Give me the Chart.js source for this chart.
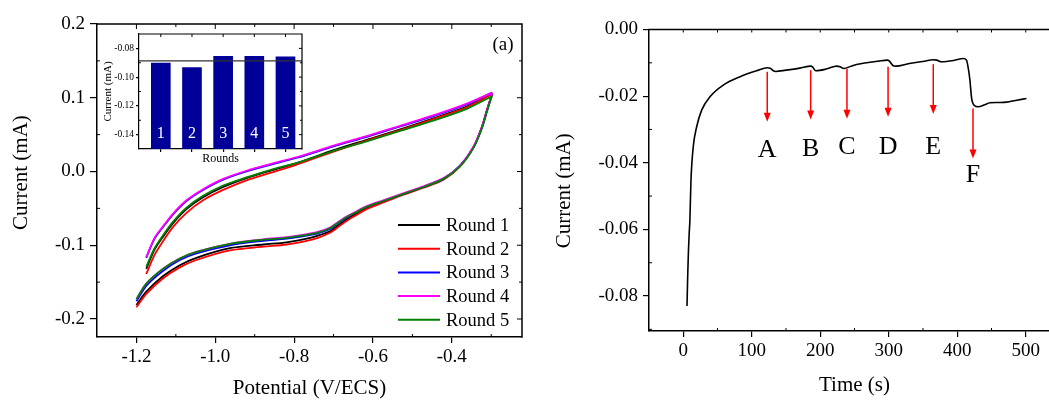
<!DOCTYPE html>
<html>
<head>
<meta charset="utf-8">
<title>CV rounds and chronoamperometry</title>
<script src="https://cdn.jsdelivr.net/npm/chart.js@4.4.1/dist/chart.umd.min.js"></script>
<style>
  html, body { margin: 0; padding: 0; background: #fff; }
  body { position: relative; width: 1049px; height: 401px; overflow: hidden; }
  canvas { position: absolute; display: block; }
</style>
</head>
<body>
<canvas id="cv" width="540" height="401" style="left:0;top:0;width:540px;height:401px"></canvas>
<canvas id="it" width="540" height="401" style="left:540px;top:0;width:540px;height:401px"></canvas>
<canvas id="inset" width="220" height="150" style="left:90px;top:20px;width:220px;height:150px"></canvas>
<script>
// ---------- Cyclic voltammograms, five consecutive rounds ----------
const roundNames  = ['Round 1', 'Round 2', 'Round 3', 'Round 4', 'Round 5'];
const roundColors = ['#000000', '#ff0000', '#0000ff', '#ff00ff', '#008000'];

// anodic (upper) branch: potential in V vs ECS, current in mA
const anodicPotential = [-1.175, -1.154, -1.132, -1.107, -1.073, -1.031, -0.980, -0.921, -0.861, -0.790, -0.700, -0.616, -0.531, -0.447, -0.362, -0.298];
const anodicR1 = [-0.132, -0.106, -0.088, -0.070, -0.051, -0.035, -0.021, -0.009, 0.001, 0.012, 0.029, 0.043, 0.057, 0.072, 0.088, 0.105];
const anodicR2 = [-0.139, -0.113, -0.094, -0.075, -0.056, -0.039, -0.025, -0.012, -0.002, 0.010, 0.027, 0.042, 0.056, 0.071, 0.087, 0.105];
const anodicR3 = [-0.117, -0.091, -0.075, -0.058, -0.040, -0.025, -0.011, 0.000, 0.009, 0.019, 0.034, 0.047, 0.061, 0.075, 0.091, 0.107];
const anodicR4 = [-0.116, -0.090, -0.074, -0.057, -0.039, -0.024, -0.010, 0.001, 0.010, 0.020, 0.035, 0.048, 0.062, 0.076, 0.092, 0.107];
const anodicR5 = [-0.129, -0.104, -0.086, -0.068, -0.049, -0.033, -0.019, -0.008, 0.002, 0.012, 0.028, 0.041, 0.055, 0.069, 0.085, 0.102];

// cathodic (lower) branch
const cathodicPotential = [-1.200, -1.175, -1.133, -1.090, -1.048, -0.963, -0.878, -0.819, -0.768, -0.740, -0.709, -0.690, -0.667, -0.645, -0.616, -0.574, -0.531, -0.472, -0.421, -0.379, -0.345, -0.324, -0.311, -0.301, -0.298];
const cathodicR1 = [-0.181, -0.163, -0.142, -0.127, -0.117, -0.104, -0.099, -0.096, -0.091, -0.087, -0.081, -0.074, -0.065, -0.058, -0.050, -0.041, -0.032, -0.021, -0.010, 0.008, 0.033, 0.060, 0.083, 0.100, 0.105];
const cathodicR2 = [-0.184, -0.166, -0.145, -0.130, -0.120, -0.107, -0.102, -0.099, -0.094, -0.090, -0.083, -0.076, -0.067, -0.060, -0.051, -0.042, -0.033, -0.022, -0.011, 0.007, 0.033, 0.060, 0.083, 0.100, 0.105];
const cathodicR3 = [-0.176, -0.155, -0.135, -0.120, -0.111, -0.100, -0.094, -0.091, -0.087, -0.084, -0.078, -0.071, -0.063, -0.056, -0.048, -0.040, -0.032, -0.021, -0.010, 0.008, 0.033, 0.059, 0.082, 0.100, 0.107];
const cathodicR4 = [-0.173, -0.152, -0.132, -0.118, -0.109, -0.098, -0.092, -0.089, -0.085, -0.082, -0.076, -0.069, -0.061, -0.055, -0.047, -0.039, -0.031, -0.020, -0.009, 0.008, 0.034, 0.060, 0.083, 0.100, 0.107];
const cathodicR5 = [-0.173, -0.152, -0.132, -0.118, -0.109, -0.098, -0.0925, -0.090, -0.086, -0.083, -0.077, -0.070, -0.062, -0.056, -0.048, -0.040, -0.032, -0.021, -0.010, 0.007, 0.032, 0.058, 0.081, 0.098, 0.102];

const cvPotentialTicks = [-1.2, -1.0, -0.8, -0.6, -0.4];
const cvPotentialMinor = [-1.1, -0.9, -0.7, -0.5, -0.3];
const cvCurrentTicks   = [-0.2, -0.1, 0.0, 0.1, 0.2];
const cvCurrentMinor   = [-0.15, -0.05, 0.05, 0.15];

// ---------- Inset: current of each round ----------
const rounds       = [1, 2, 3, 4, 5];
const roundCurrent = [-0.0903, -0.0933, -0.0855, -0.0855, -0.0859];
const meanLevel    = -0.0887;
const insetTicks   = [-0.08, -0.10, -0.12, -0.14];
const insetMinor   = [-0.07, -0.09, -0.11, -0.13];

// ---------- Current–time response with additions A–F ----------
const timeS = [5.5, 6.5, 7.5, 8.6, 9.7, 11.3, 14.6, 19.6, 26.9, 39, 58.4, 82.8, 107, 123, 127, 131, 135, 150, 170, 186.5, 189, 193.5, 210, 224, 229, 234.5, 245, 253, 270, 285, 298, 301, 306, 310, 330, 350, 365, 370, 377, 395, 409, 413.5, 416, 418.5, 421, 425, 430.5, 440, 447.5, 460, 472, 485, 501];
const currentMA = [-0.0830, -0.0740, -0.0670, -0.0615, -0.0572, -0.0452, -0.0352, -0.0292, -0.0242, -0.0202, -0.0167, -0.0142, -0.0124, -0.0115, -0.0116, -0.0123, -0.0126, -0.0122, -0.0116, -0.0110, -0.0113, -0.0124, -0.0118, -0.0110, -0.0112, -0.0117, -0.0110, -0.0105, -0.0099, -0.0095, -0.0092, -0.0095, -0.0108, -0.0110, -0.0102, -0.0096, -0.0091, -0.0092, -0.0097, -0.0093, -0.0087, -0.0092, -0.0115, -0.0152, -0.0207, -0.0228, -0.0232, -0.0226, -0.0220, -0.0219, -0.0218, -0.0213, -0.0207];

const markerLabels = ['A', 'B', 'C', 'D', 'E', 'F'];
const markerTime   = [122.6, 186, 239, 299, 365, 423];
const markerFrom   = [-0.0127, -0.0122, -0.0118, -0.0112, -0.0104, -0.0237];
const markerTo     = [-0.0277, -0.0270, -0.0268, -0.0262, -0.0254, -0.0387];
const markerTextAt = [-0.0362, -0.0360, -0.0352, -0.0354, -0.0352, -0.0437];

const itTimeTicks    = [0, 100, 200, 300, 400, 500];
const itTimeMinor    = [-50, 50, 150, 250, 350, 450, 550];
const itCurrentTicks = [0, -0.02, -0.04, -0.06, -0.08];
const itCurrentMinor = [-0.01, -0.03, -0.05, -0.07, -0.09];

// ---------- shared styling ----------
const SERIF = '"Liberation Serif", "Times New Roman", Times, serif';
Chart.defaults.font.family = SERIF;
Chart.defaults.color = '#000';
const NB = '\u00a0';

// closes the plot box (top, optionally right) and adds the small inward ticks
function framePlugin(cfg) {
  return {
    id: 'frame',
    afterDraw(chart) {
      const { ctx, chartArea: a } = chart;
      const xs = chart.scales.x, ys = chart.scales.y;
      ctx.save();
      ctx.strokeStyle = '#000';
      ctx.lineWidth = cfg.width;
      ctx.beginPath();
      ctx.moveTo(a.left - cfg.width / 2, a.top);
      ctx.lineTo(a.right + cfg.width / 2, a.top);
      if (cfg.right) { ctx.moveTo(a.right, a.top); ctx.lineTo(a.right, a.bottom + cfg.width / 2); }
      ctx.stroke();
      ctx.lineWidth = 1;
      ctx.beginPath();
      const tx = (v, len, y0, dir) => {
        const p = xs.getPixelForValue(v);
        if (p <= a.left + 1 || p >= a.right - 1) return;
        ctx.moveTo(p, y0); ctx.lineTo(p, y0 + dir * len);
      };
      const ty = (v, len, x0, dir) => {
        const p = ys.getPixelForValue(v);
        if (p <= a.top + 1 || p >= a.bottom - 1) return;
        ctx.moveTo(x0, p); ctx.lineTo(x0 + dir * len, p);
      };
      (cfg.minorX || []).forEach(v => { tx(v, cfg.minorLen, a.bottom, -1); if (cfg.top) tx(v, cfg.minorLen, a.top, 1); });
      if (cfg.top) (cfg.majorX || []).forEach(v => tx(v, cfg.majorLen, a.top, 1));
      (cfg.minorY || []).forEach(v => { ty(v, cfg.minorLen, a.left, 1); if (cfg.right) ty(v, cfg.minorLen, a.right, -1); });
      if (cfg.right) (cfg.majorY || []).forEach(v => ty(v, cfg.majorLen, a.right, -1));
      ctx.stroke();
      ctx.restore();
    }
  };
}

function fixedTicks(values) {
  return scale => { scale.ticks = values.map(v => ({ value: v })); };
}

function axis(opts) {
  return {
    type: 'linear',
    min: opts.min, max: opts.max,
    offset: false,
    afterBuildTicks: fixedTicks(opts.ticks),
    afterFit: opts.fit,
    ticks: { callback: opts.format, font: { size: opts.tickSize }, color: '#000', padding: opts.tickPad, maxRotation: 0, autoSkip: false, display: opts.labels !== false },
    grid: { drawOnChartArea: false, drawTicks: true, tickLength: opts.tickLen, color: '#000', lineWidth: 1.2, offset: false },
    border: { display: true, color: '#000', width: opts.border || 1.5 },
    title: { display: true, text: opts.title, color: '#000', font: { size: opts.titleSize }, padding: opts.titlePad }
  };
}

// ---------- left panel: CV ----------
const anodic   = [anodicR1, anodicR2, anodicR3, anodicR4, anodicR5];
const cathodic = [cathodicR1, cathodicR2, cathodicR3, cathodicR4, cathodicR5];
const cvSets = [];
roundNames.forEach((name, r) => {
  const common = {
    label: name, borderColor: roundColors[r], backgroundColor: roundColors[r],
    borderWidth: 1.8, pointRadius: 0, showLine: true, fill: false,
    tension: 0.3, order: roundNames.length - 1 - r
  };
  cvSets.push(Object.assign({}, common, { data: anodicPotential.map((v, i) => ({ x: v, y: anodic[r][i] })) }));
  cvSets.push(Object.assign({}, common, { data: cathodicPotential.map((v, i) => ({ x: v, y: cathodic[r][i] })) }));
});

const roundKey = {
  id: 'roundKey',
  afterDraw(chart) {
    const { ctx } = chart;
    ctx.save();
    ctx.font = '18.5px ' + SERIF;
    ctx.textBaseline = 'middle';
    ctx.textAlign = 'left';
    roundNames.forEach((name, i) => {
      const y = 225 + i * 23.7;
      ctx.strokeStyle = roundColors[i];
      ctx.lineWidth = 2;
      ctx.beginPath(); ctx.moveTo(398, y); ctx.lineTo(440, y); ctx.stroke();
      ctx.fillStyle = '#000';
      ctx.fillText(name, 446, y + 1);
    });
    ctx.font = '19px ' + SERIF;
    ctx.textAlign = 'center';
    ctx.fillText('(a)', 503, 45);
    ctx.restore();
  }
};

new Chart(document.getElementById('cv'), {
  type: 'scatter',
  data: { datasets: cvSets },
  options: {
    responsive: false, animation: false, devicePixelRatio: 1,
    layout: { padding: { top: 24, right: 18, left: 0, bottom: 0 } },
    plugins: { legend: { display: false }, tooltip: { enabled: false } },
    scales: {
      x: axis({ min: -1.3, max: -0.222, ticks: cvPotentialTicks, fit: s => { s.height = 64; },
                format: v => v.toFixed(1), tickSize: 19, tickPad: 3, tickLen: 6,
                title: 'Potential (V/ECS)', titleSize: 21, titlePad: { top: 0, bottom: 0 } }),
      y: axis({ min: -0.2244, max: 0.2, ticks: cvCurrentTicks, fit: s => { s.width = 97; },
                format: v => v.toFixed(1), tickSize: 19, tickPad: 5, tickLen: 7,
                title: NB + NB + NB + 'Current (mA)', titleSize: 21, titlePad: { top: 9, bottom: 0 } })
    }
  },
  plugins: [framePlugin({ width: 1.5, right: true, top: true, majorX: cvPotentialTicks, minorX: cvPotentialMinor,
                          majorY: cvCurrentTicks, minorY: cvCurrentMinor, majorLen: 5, minorLen: 3 }), roundKey]
});

// ---------- inset bars ----------
const insetMarks = {
  id: 'insetMarks',
  afterDatasetsDraw(chart) {
    const { ctx, chartArea: a, scales: { x, y } } = chart;
    ctx.save();
    ctx.strokeStyle = '#333';
    ctx.lineWidth = 1.3;
    const py = y.getPixelForValue(meanLevel);
    ctx.beginPath(); ctx.moveTo(a.left, py); ctx.lineTo(a.right, py); ctx.stroke();
    ctx.fillStyle = '#fff';
    ctx.font = '16px ' + SERIF;
    ctx.textAlign = 'center';
    ctx.textBaseline = 'middle';
    rounds.forEach(r => ctx.fillText(String(r), x.getPixelForValue(r), y.getPixelForValue(-0.1395)));
    ctx.restore();
  }
};

new Chart(document.getElementById('inset'), {
  type: 'bar',
  data: { datasets: [{ data: rounds.map((r, i) => ({ x: r, y: roundCurrent[i] })),
                       backgroundColor: '#000099', borderWidth: 0, barThickness: 19, base: -0.15 }] },
  options: {
    responsive: false, animation: false, devicePixelRatio: 1,
    layout: { padding: { top: 14, right: 8, left: 0, bottom: 0 } },
    plugins: { legend: { display: false }, tooltip: { enabled: false } },
    scales: {
      x: axis({ min: 0.3, max: 5.53, ticks: rounds, fit: s => { s.height = 21; }, labels: false,
                format: v => '', tickSize: 9, tickPad: 0, tickLen: 3, border: 1.2,
                title: 'Rounds', titleSize: 12, titlePad: { top: 0, bottom: 4 } }),
      y: Object.assign(axis({ min: -0.15, max: -0.07, ticks: insetTicks, fit: s => { s.width = 49; },
                format: v => v.toFixed(2), tickSize: 9.5, tickPad: 2, tickLen: 3, border: 1.2,
                title: 'Current (mA)', titleSize: 11, titlePad: { top: 12, bottom: 0 } }), { beginAtZero: false })
    }
  },
  plugins: [framePlugin({ width: 1.2, right: true, top: true, majorX: rounds, minorX: [],
                          majorY: insetTicks, minorY: insetMinor, majorLen: 3, minorLen: 2 }), insetMarks]
});

// ---------- right panel: current vs time ----------
const markerPlugin = {
  id: 'markers',
  afterDatasetsDraw(chart) {
    const { ctx, scales: { x, y } } = chart;
    ctx.save();
    markerTime.forEach((t, i) => {
      const px = x.getPixelForValue(t);
      const y0 = y.getPixelForValue(markerFrom[i]);
      const y1 = y.getPixelForValue(markerTo[i]);
      ctx.strokeStyle = '#ff0000';
      ctx.fillStyle = '#ff0000';
      ctx.lineWidth = 1.5;
      ctx.beginPath(); ctx.moveTo(px, y0); ctx.lineTo(px, y1 - 7); ctx.stroke();
      ctx.beginPath();
      ctx.moveTo(px - 3.5, y1 - 9); ctx.lineTo(px + 3.5, y1 - 9); ctx.lineTo(px, y1);
      ctx.closePath(); ctx.fill();
      ctx.fillStyle = '#000';
      ctx.font = '26px ' + SERIF;
      ctx.textAlign = 'center';
      ctx.textBaseline = 'middle';
      ctx.fillText(markerLabels[i], px, y.getPixelForValue(markerTextAt[i]));
    });
    ctx.restore();
  }
};

new Chart(document.getElementById('it'), {
  type: 'scatter',
  data: { datasets: [{ data: timeS.map((t, i) => ({ x: t, y: currentMA[i] })), showLine: true,
                       borderColor: '#000', borderWidth: 1.6, pointRadius: 0, cubicInterpolationMode: 'monotone' }] },
  options: {
    responsive: false, animation: false, devicePixelRatio: 1,
    layout: { padding: { top: 29.5, right: 20, left: 0, bottom: 0 } },
    plugins: { legend: { display: false }, tooltip: { enabled: false } },
    scales: {
      x: axis({ min: -50, max: 550, ticks: itTimeTicks, fit: s => { s.height = 70; },
                format: v => String(v), tickSize: 19, tickPad: 3, tickLen: 6,
                title: 'Time (s)', titleSize: 21, titlePad: { top: 0, bottom: 3 } }),
      y: axis({ min: -0.0905, max: 0, ticks: itCurrentTicks, fit: s => { s.width = 109; },
                format: v => v.toFixed(2), tickSize: 19, tickPad: 5, tickLen: 6,
                title: 'Current (mA)' + NB + NB + NB + NB, titleSize: 21, titlePad: { top: 12, bottom: 0 } })
    }
  },
  plugins: [framePlugin({ width: 1.5, right: false, top: true, majorX: itTimeTicks, minorX: itTimeMinor,
                          majorY: itCurrentTicks, minorY: itCurrentMinor, majorLen: 3, minorLen: 3 }), markerPlugin]
});
</script>
</body>
</html>
